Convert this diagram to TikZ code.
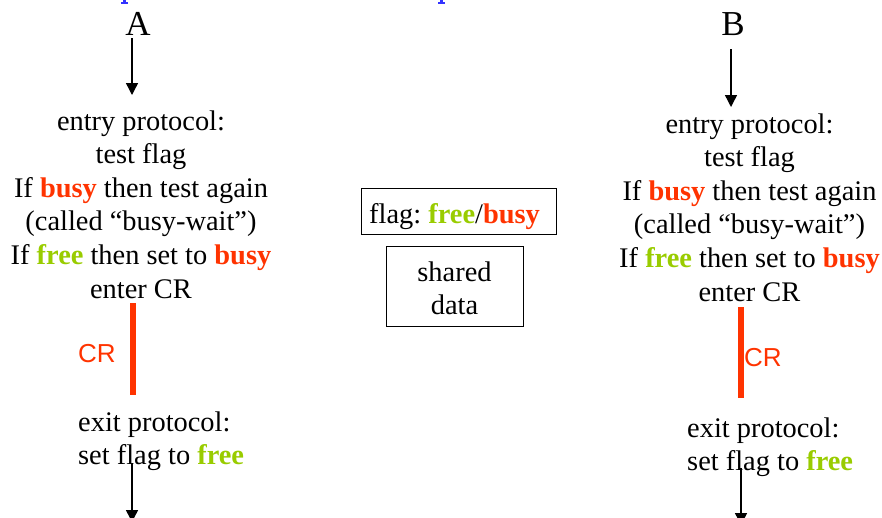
\documentclass[tikz,border=0pt]{standalone}
\usepackage{fontspec}
\setmainfont{Liberation Serif}
\setsansfont{Liberation Sans}
\usetikzlibrary{arrows.meta}
\frenchspacing

\definecolor{busyred}{RGB}{255,51,0}
\definecolor{freegreen}{RGB}{153,204,0}
\definecolor{titleblue}{RGB}{51,51,255}

\newcommand\wordbusy{\textcolor{busyred}{\textbf{busy}}}
\newcommand\wordfree{\textcolor{freegreen}{\textbf{free}}}

\tikzset{
  body/.style={inner sep=0pt, font=\fontsize{28.4}{33.6}\selectfont},
  proc/.style={inner sep=0pt, font=\fontsize{35}{40}\selectfont},
  crlabel/.style={inner sep=0pt, text=busyred, font=\sffamily\fontsize{26}{30}\selectfont},
  crbar/.style={draw=busyred, line width=6pt},
  flow/.style={line width=1.4pt, -{Triangle[width=12pt,length=12pt]}},
  boxed/.style={draw, line width=1.3pt, inner sep=0pt},
}

\begin{document}
\begin{tikzpicture}[x=1pt, y=-1pt]
  \useasboundingbox (0,0) rectangle (882,517);

  % feet of the heading line that runs above the top edge
  \fill[titleblue] (123,0) rectangle (125.5,3);
  \fill[titleblue] (120.5,2.2) rectangle (128,4);
  \fill[titleblue] (440,0) rectangle (442.5,3);
  \fill[titleblue] (437.5,2.2) rectangle (445,4);

  % ---- process A ----
  \node[proc, anchor=base] (A) at (138,35) {A};
  \node[body, anchor=base] (entryA) at (141,130) {%
    \setlength\tabcolsep{0pt}\begin{tabular}[t]{c}
      entry protocol:\\
      test flag\\
      If \wordbusy{} then test again\\
      (called “busy-wait”)\\
      If \wordfree{} then set to \wordbusy\\
      enter CR
    \end{tabular}};
  \coordinate (crAtop) at (133,303);
  \coordinate (crAbot) at (133,395);
  \draw[crbar] (crAtop) -- (crAbot);
  \node[crlabel, anchor=base west] (crA) at (78,362) {CR};
  \node[body, anchor=base west] (exitA) at (78,431) {%
    \setlength\tabcolsep{0pt}\begin{tabular}[t]{l}
      exit protocol:\\
      set flag to \wordfree
    \end{tabular}};
  \coordinate (inAfrom) at (132,38);
  \coordinate (inAto) at (132,95);
  \draw[flow] (inAfrom) -- (inAto);
  \coordinate (outAfrom) at (132,463);
  \coordinate (outAto) at (132,522);
  \draw[flow] (outAfrom) -- (outAto);

  % ---- shared variables ----
  \node[boxed, minimum width=195pt, minimum height=46pt, anchor=north west] (flagbox) at (361,188) {};
  \node[body, anchor=base west] (flagtxt) at (369,223) {flag: \wordfree/\wordbusy};
  \node[boxed, minimum width=137pt, minimum height=80pt, anchor=north west] (databox) at (386,246) {};
  \node[body, anchor=base] (datatxt) at (454.5,281) {%
    \setlength\tabcolsep{0pt}\begin{tabular}[t]{c}
      shared\\
      data
    \end{tabular}};

  % ---- process B ----
  \node[proc, anchor=base] (B) at (733,35) {B};
  \node[body, anchor=base] (entryB) at (749.5,133) {%
    \setlength\tabcolsep{0pt}\begin{tabular}[t]{c}
      entry protocol:\\
      test flag\\
      If \wordbusy{} then test again\\
      (called “busy-wait”)\\
      If \wordfree{} then set to \wordbusy\\
      enter CR
    \end{tabular}};
  \coordinate (crBtop) at (741,307);
  \coordinate (crBbot) at (741,398);
  \draw[crbar] (crBtop) -- (crBbot);
  \node[crlabel, anchor=base west] (crB) at (744,366) {CR};
  \node[body, anchor=base west] (exitB) at (687,437) {%
    \setlength\tabcolsep{0pt}\begin{tabular}[t]{l}
      exit protocol:\\
      set flag to \wordfree
    \end{tabular}};
  \coordinate (inBfrom) at (731,49);
  \coordinate (inBto) at (731,107);
  \draw[flow] (inBfrom) -- (inBto);
  \coordinate (outBfrom) at (741,468);
  \coordinate (outBto) at (741,525);
  \draw[flow] (outBfrom) -- (outBto);
\end{tikzpicture}
\end{document}
